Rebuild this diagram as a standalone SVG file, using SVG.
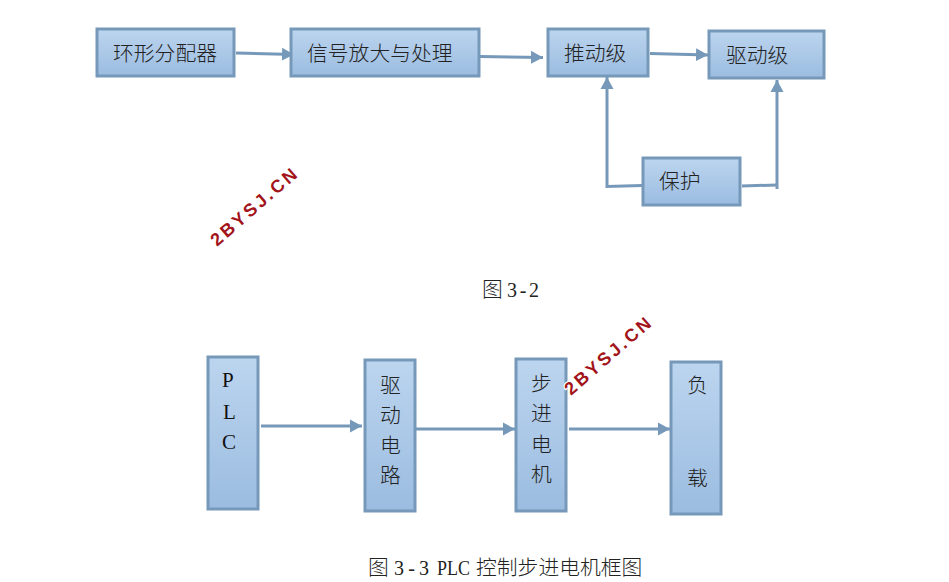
<svg xmlns="http://www.w3.org/2000/svg" width="949" height="582" viewBox="0 0 949 582">
<style>
.box{fill:url(#g);stroke:#7699ba;stroke-width:3}
.c{fill:none;stroke:#7699ba;stroke-width:3}
.t{font-family:"Noto Sans CJK SC",sans-serif;font-size:20.8px;font-weight:300;fill:#222}
.l{font-family:"Liberation Serif",serif;font-size:21px;fill:#111}
.cap{font-family:"Liberation Serif",serif;font-size:20px;fill:#222}
.capz{font-family:"Noto Sans CJK SC",sans-serif;font-size:20.8px;font-weight:300;fill:#222}
.w{font-family:"Liberation Sans",sans-serif;font-size:18px;font-weight:bold;letter-spacing:2.8px;fill:#a3141a;stroke:#fff;stroke-width:2.5px;paint-order:stroke}
</style>
<defs>
<linearGradient id="g" x1="0" y1="0" x2="0" y2="1"><stop offset="0" stop-color="#bcd5ef"/><stop offset="1" stop-color="#9bbce0"/></linearGradient>
<marker id="a" markerUnits="userSpaceOnUse" markerWidth="13" markerHeight="14" refX="12" refY="7" orient="auto"><path d="M0 0.500L12 7L0 13.500Z" fill="#7699ba"/></marker>
</defs>
<rect width="949" height="582" fill="#fff"/>
<g id="connectors">
<path class="c" d="M236 53L294 54.500" marker-end="url(#a)"/>
<path class="c" d="M480 56.500L543 57.500" marker-end="url(#a)"/>
<path class="c" d="M650 53.500L708 55" marker-end="url(#a)"/>
<path class="c" d="M642 185.500L607 186.500V77" marker-end="url(#a)"/>
<path class="c" d="M742 186L777 185" />
<path class="c" d="M777 189V80" marker-end="url(#a)"/>
<path class="c" d="M261 426H362" marker-end="url(#a)"/>
<path class="c" d="M415 429H515" marker-end="url(#a)"/>
<path class="c" d="M569 429H670" marker-end="url(#a)"/>
</g>
<g id="n1"><rect class="box" x="97" y="29" width="137" height="47"/><text class="t" x="113" y="61">环形分配器</text></g>
<g id="n2"><rect class="box" x="291" y="29" width="188" height="47"/><text class="t" x="307" y="61">信号放大与处理</text></g>
<g id="n3"><rect class="box" x="548" y="29" width="100" height="47"/><text class="t" x="564" y="61">推动级</text></g>
<g id="n4"><rect class="box" x="709" y="31" width="115" height="47"/><text class="t" x="726" y="63">驱动级</text></g>
<g id="n5"><rect class="box" x="643" y="158" width="97" height="47"/><text class="t" x="659" y="189">保护</text></g>
<g id="n6"><rect class="box" x="208" y="357" width="50" height="152"/><text class="l" x="222" y="387">P</text><text class="l" x="223" y="419">L</text><text class="l" x="222" y="449">C</text></g>
<g id="n7"><rect class="box" x="365" y="360" width="50" height="151"/><text class="t" x="380" y="393">驱</text><text class="t" x="380" y="423">动</text><text class="t" x="380" y="453">电</text><text class="t" x="380" y="483">路</text></g>
<g id="n8"><rect class="box" x="516" y="359" width="50" height="152"/><text class="t" x="531" y="391">步</text><text class="t" x="531" y="421">进</text><text class="t" x="531" y="452">电</text><text class="t" x="531" y="482">机</text></g>
<g id="n9"><rect class="box" x="671" y="362" width="50" height="152"/><text class="t" x="687" y="393">负</text><text class="t" x="687" y="486">载</text></g>
<text class="capz" x="482" y="297">图</text><text class="cap" x="507" y="297" textLength="32" lengthAdjust="spacing">3-2</text>
<text class="capz" x="368" y="575">图</text><text class="cap" x="394" y="575" textLength="35" lengthAdjust="spacing">3-3</text><text class="cap" x="437" y="575" textLength="33" lengthAdjust="spacingAndGlyphs">PLC</text><text class="capz" x="476" y="575">控制步进电机框图</text>
<text class="w" transform="translate(217 247) rotate(-41)">2BYSJ.CN</text>
<text class="w" transform="translate(571 396) rotate(-41)">2BYSJ.CN</text>
</svg>
